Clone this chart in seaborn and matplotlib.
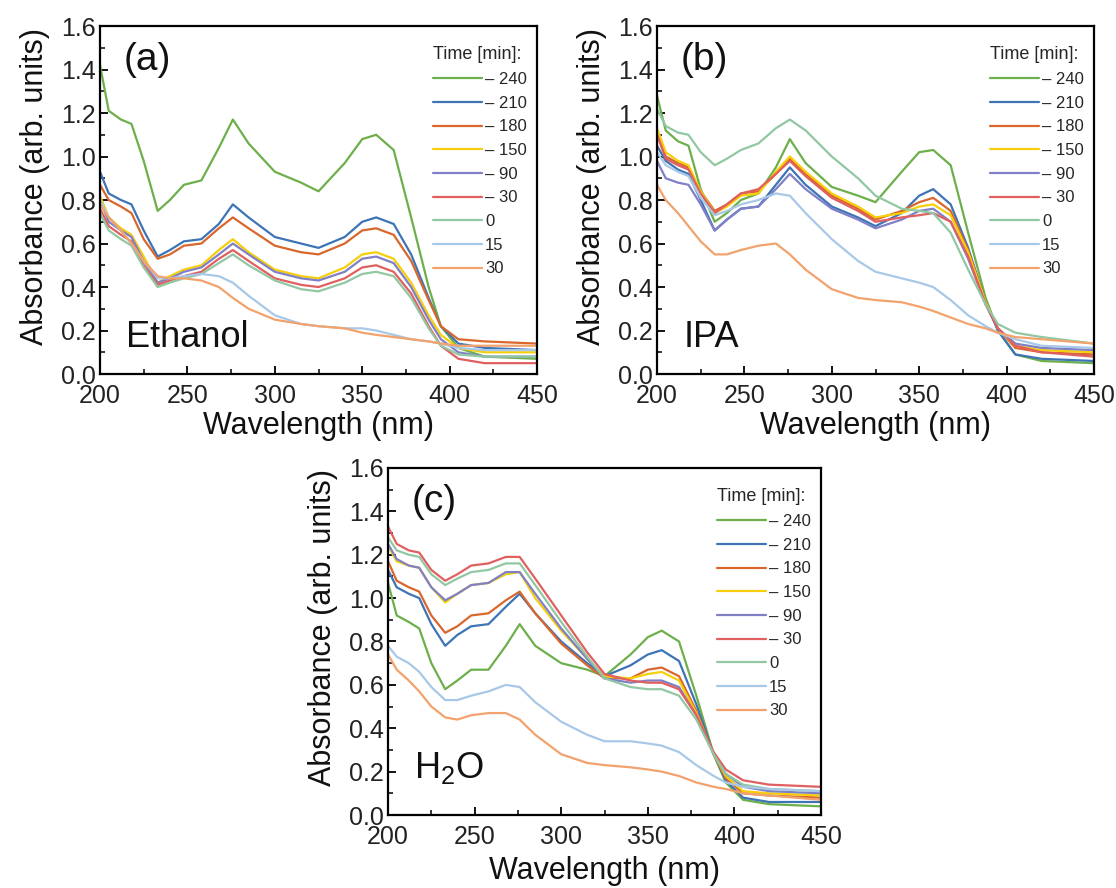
import matplotlib
matplotlib.use("Agg")
import matplotlib.pyplot as plt
from matplotlib.ticker import MultipleLocator, FormatStrFormatter
import pandas as pd
import seaborn as sns

# Sampled wavelengths (nm) shared by every spectrum
wavelength = [200, 205, 212, 218, 225, 233, 240, 248, 258, 268, 276, 285, 300,
              315, 325, 340, 350, 358, 368, 378, 388, 395, 405, 420, 450]

time_labels = ["– 240", "– 210", "– 180", "– 150", "– 90", "– 30", "0", "15", "30"]
line_colors = ["#6daf4a", "#3d74b6", "#d9672c", "#f6cf0a", "#7f80c6",
               "#e0605f", "#92c7a3", "#a8c8e8", "#f2a26c"]

# (a) Ethanol
eth_m240 = [1.42, 1.21, 1.17, 1.15, 0.98, 0.75, 0.80, 0.87, 0.89, 1.04, 1.17, 1.06, 0.93,
            0.88, 0.84, 0.97, 1.08, 1.10, 1.03, 0.72, 0.40, 0.22, 0.12, 0.08, 0.07]
eth_m210 = [0.93, 0.83, 0.80, 0.78, 0.66, 0.54, 0.57, 0.61, 0.62, 0.69, 0.78, 0.72, 0.63,
            0.60, 0.58, 0.63, 0.70, 0.72, 0.69, 0.55, 0.35, 0.22, 0.14, 0.12, 0.11]
eth_m180 = [0.87, 0.80, 0.77, 0.74, 0.62, 0.53, 0.55, 0.59, 0.60, 0.67, 0.72, 0.67, 0.59,
            0.56, 0.55, 0.60, 0.66, 0.67, 0.64, 0.52, 0.34, 0.22, 0.16, 0.15, 0.14]
eth_m150 = [0.82, 0.72, 0.67, 0.64, 0.54, 0.42, 0.45, 0.48, 0.50, 0.57, 0.62, 0.56, 0.48,
            0.45, 0.44, 0.49, 0.55, 0.56, 0.53, 0.42, 0.27, 0.18, 0.12, 0.10, 0.10]
eth_m90 = [0.80, 0.70, 0.66, 0.63, 0.52, 0.42, 0.44, 0.47, 0.49, 0.55, 0.60, 0.55, 0.47,
           0.44, 0.43, 0.47, 0.53, 0.54, 0.51, 0.40, 0.25, 0.16, 0.10, 0.08, 0.08]
eth_m30 = [0.76, 0.68, 0.64, 0.61, 0.50, 0.41, 0.43, 0.45, 0.47, 0.53, 0.57, 0.52, 0.44,
           0.41, 0.40, 0.44, 0.49, 0.50, 0.47, 0.37, 0.22, 0.13, 0.07, 0.05, 0.05]
eth_0 = [0.74, 0.66, 0.62, 0.59, 0.49, 0.40, 0.42, 0.44, 0.46, 0.51, 0.55, 0.50, 0.43,
         0.39, 0.38, 0.42, 0.46, 0.47, 0.45, 0.35, 0.21, 0.13, 0.09, 0.08, 0.08]
eth_15 = [0.80, 0.72, 0.66, 0.60, 0.52, 0.44, 0.44, 0.45, 0.46, 0.45, 0.42, 0.36, 0.27,
          0.23, 0.22, 0.21, 0.21, 0.20, 0.18, 0.16, 0.15, 0.14, 0.12, 0.11, 0.11]
eth_30 = [0.78, 0.72, 0.66, 0.60, 0.52, 0.45, 0.44, 0.44, 0.43, 0.40, 0.35, 0.30, 0.25,
          0.23, 0.22, 0.21, 0.19, 0.18, 0.17, 0.16, 0.15, 0.14, 0.13, 0.13, 0.13]

# (b) IPA
ipa_m240 = [1.28, 1.12, 1.07, 1.05, 0.85, 0.70, 0.74, 0.80, 0.83, 0.95, 1.08, 0.97, 0.86,
            0.82, 0.79, 0.93, 1.02, 1.03, 0.96, 0.65, 0.35, 0.20, 0.09, 0.06, 0.05]
ipa_m210 = [1.05, 0.98, 0.94, 0.92, 0.80, 0.66, 0.71, 0.76, 0.77, 0.87, 0.95, 0.87, 0.77,
            0.72, 0.68, 0.74, 0.82, 0.85, 0.78, 0.58, 0.33, 0.20, 0.09, 0.07, 0.06]
ipa_m180 = [1.12, 1.00, 0.97, 0.95, 0.84, 0.75, 0.78, 0.83, 0.84, 0.92, 0.99, 0.92, 0.82,
            0.76, 0.71, 0.75, 0.79, 0.81, 0.75, 0.57, 0.33, 0.21, 0.12, 0.10, 0.09]
ipa_m150 = [1.13, 1.02, 0.98, 0.96, 0.84, 0.74, 0.77, 0.82, 0.83, 0.93, 1.00, 0.93, 0.83,
            0.77, 0.72, 0.74, 0.77, 0.78, 0.73, 0.56, 0.33, 0.21, 0.13, 0.11, 0.10]
ipa_m90 = [0.98, 0.90, 0.88, 0.87, 0.78, 0.66, 0.71, 0.76, 0.77, 0.85, 0.92, 0.85, 0.76,
           0.71, 0.67, 0.71, 0.75, 0.76, 0.70, 0.53, 0.32, 0.21, 0.14, 0.12, 0.11]
ipa_m30 = [1.10, 0.99, 0.96, 0.94, 0.83, 0.74, 0.78, 0.83, 0.85, 0.92, 0.98, 0.91, 0.81,
           0.75, 0.70, 0.72, 0.73, 0.74, 0.70, 0.54, 0.32, 0.21, 0.13, 0.10, 0.08]
ipa_0 = [1.22, 1.14, 1.11, 1.10, 1.02, 0.96, 0.99, 1.03, 1.06, 1.13, 1.17, 1.12, 1.00,
         0.90, 0.82, 0.76, 0.75, 0.74, 0.65, 0.48, 0.32, 0.23, 0.19, 0.17, 0.14]
ipa_15 = [1.02, 0.96, 0.93, 0.91, 0.81, 0.73, 0.75, 0.78, 0.80, 0.83, 0.82, 0.74, 0.62,
          0.52, 0.47, 0.44, 0.42, 0.40, 0.34, 0.27, 0.22, 0.19, 0.16, 0.13, 0.12]
ipa_30 = [0.87, 0.80, 0.74, 0.68, 0.61, 0.55, 0.55, 0.57, 0.59, 0.60, 0.55, 0.48, 0.39,
          0.35, 0.34, 0.33, 0.31, 0.29, 0.26, 0.23, 0.21, 0.19, 0.17, 0.16, 0.14]

# (c) H2O
h2o_m240 = [1.07, 0.92, 0.89, 0.86, 0.70, 0.58, 0.62, 0.67, 0.67, 0.78, 0.88, 0.78, 0.70,
            0.67, 0.64, 0.74, 0.82, 0.85, 0.80, 0.55, 0.28, 0.15, 0.07, 0.05, 0.04]
h2o_m210 = [1.13, 1.05, 1.02, 1.00, 0.88, 0.78, 0.83, 0.87, 0.88, 0.96, 1.02, 0.93, 0.80,
            0.70, 0.64, 0.69, 0.74, 0.76, 0.71, 0.51, 0.28, 0.16, 0.08, 0.06, 0.06]
h2o_m180 = [1.17, 1.08, 1.05, 1.03, 0.92, 0.84, 0.87, 0.92, 0.93, 0.99, 1.03, 0.93, 0.79,
            0.69, 0.63, 0.63, 0.67, 0.68, 0.64, 0.48, 0.28, 0.17, 0.10, 0.09, 0.08]
h2o_m150 = [1.24, 1.17, 1.15, 1.14, 1.05, 0.98, 1.02, 1.06, 1.07, 1.11, 1.12, 1.00, 0.85,
            0.72, 0.64, 0.63, 0.65, 0.66, 0.62, 0.47, 0.28, 0.18, 0.11, 0.10, 0.09]
h2o_m90 = [1.25, 1.18, 1.15, 1.14, 1.05, 0.99, 1.02, 1.06, 1.07, 1.12, 1.12, 1.02, 0.86,
           0.72, 0.63, 0.61, 0.62, 0.62, 0.59, 0.46, 0.28, 0.19, 0.13, 0.11, 0.10]
h2o_m30 = [1.33, 1.25, 1.22, 1.21, 1.13, 1.08, 1.11, 1.15, 1.16, 1.19, 1.19, 1.09, 0.92,
           0.75, 0.65, 0.62, 0.61, 0.61, 0.58, 0.46, 0.29, 0.21, 0.16, 0.14, 0.13]
h2o_0 = [1.28, 1.22, 1.20, 1.19, 1.11, 1.06, 1.09, 1.12, 1.13, 1.16, 1.16, 1.06, 0.89,
         0.73, 0.63, 0.59, 0.58, 0.58, 0.55, 0.44, 0.28, 0.19, 0.14, 0.12, 0.11]
h2o_15 = [0.78, 0.73, 0.70, 0.66, 0.59, 0.53, 0.53, 0.55, 0.57, 0.60, 0.59, 0.52, 0.43,
          0.37, 0.34, 0.34, 0.33, 0.32, 0.29, 0.23, 0.18, 0.15, 0.13, 0.12, 0.11]
h2o_30 = [0.74, 0.67, 0.62, 0.57, 0.50, 0.45, 0.44, 0.46, 0.47, 0.47, 0.44, 0.37, 0.28,
          0.24, 0.23, 0.22, 0.21, 0.20, 0.18, 0.15, 0.13, 0.12, 0.10, 0.09, 0.07]

panel_tags = ["(a)", "(b)", "(c)"]
solvent_names = ["Ethanol", "IPA", r"H$\mathregular{_2}$O"]
panel_series = [
    [eth_m240, eth_m210, eth_m180, eth_m150, eth_m90, eth_m30, eth_0, eth_15, eth_30],
    [ipa_m240, ipa_m210, ipa_m180, ipa_m150, ipa_m90, ipa_m30, ipa_0, ipa_15, ipa_30],
    [h2o_m240, h2o_m210, h2o_m180, h2o_m150, h2o_m90, h2o_m30, h2o_0, h2o_15, h2o_30],
]

sns.set_style("white")
plt.rcParams["font.family"] = ["Liberation Sans", "DejaVu Sans"]
plt.rcParams["mathtext.fontset"] = "custom"
plt.rcParams["mathtext.rm"] = "Liberation Sans"

fig = plt.figure(figsize=(11.16, 8.88), dpi=100)
axes_rects = [
    [0.0896, 0.5788, 0.3916, 0.3919],
    [0.5887, 0.5788, 0.3916, 0.3919],
    [0.3477, 0.0822, 0.3880, 0.3908],
]
text_y = [0.078, 0.078, 0.107]
xlabel_pads = [2, 2, 5]

palette = dict(zip(time_labels, line_colors))

for rect, tag, solvent, series, ty, xpad in zip(axes_rects, panel_tags, solvent_names,
                                                panel_series, text_y, xlabel_pads):
    ax = fig.add_axes(rect)
    rows = []
    for label, values in zip(time_labels, series):
        for wl, a in zip(wavelength, values):
            rows.append({"Wavelength": wl, "Absorbance": a, "Time": label})
    df = pd.DataFrame(rows)
    sns.lineplot(data=df, x="Wavelength", y="Absorbance", hue="Time",
                 hue_order=time_labels, palette=palette, linewidth=1.6,
                 errorbar=None, legend=False, ax=ax)

    ax.set_xlim(200, 450)
    ax.set_ylim(0, 1.6)
    ax.xaxis.set_major_locator(MultipleLocator(50))
    ax.xaxis.set_minor_locator(MultipleLocator(25))
    ax.yaxis.set_major_locator(MultipleLocator(0.2))
    ax.yaxis.set_minor_locator(MultipleLocator(0.1))
    ax.yaxis.set_major_formatter(FormatStrFormatter("%.1f"))
    ax.tick_params(axis="both", which="both", direction="in", colors="black",
                   bottom=True, left=True, top=False, right=False)
    ax.tick_params(axis="both", which="major", length=6, width=1.3,
                   labelsize=18, labelcolor="#222222")
    ax.tick_params(axis="x", which="major", pad=7)
    ax.tick_params(axis="y", which="major", pad=3)
    ax.tick_params(axis="both", which="minor", length=3.5, width=1.1)
    for sp in ax.spines.values():
        sp.set_color("black")
        sp.set_linewidth(1.6)

    ax.set_xlabel("Wavelength (nm)", fontsize=22, labelpad=xpad, color="#111111")
    ax.set_ylabel("Absorbance (arb. units)", fontsize=22, labelpad=8, color="#111111")
    ax.yaxis.label.set_y(0.54)

    ax.text(0.055, 0.955, tag, transform=ax.transAxes, fontsize=28,
            ha="left", va="top", color="#111111")
    ax.text(0.06, ty, solvent, transform=ax.transAxes, fontsize=26,
            ha="left", va="baseline", color="#111111")

    ax.legend(handles=ax.get_lines()[:len(time_labels)], labels=time_labels,
              title="Time [min]:", title_fontsize=13, fontsize=12,
              loc="upper right", bbox_to_anchor=(1.0, 0.97), frameon=False,
              handlelength=2.9, handletextpad=0.2, labelspacing=0.52,
              borderaxespad=0.2, borderpad=0.4, alignment="left")

fig.savefig("out.png", dpi=100, facecolor="white")
